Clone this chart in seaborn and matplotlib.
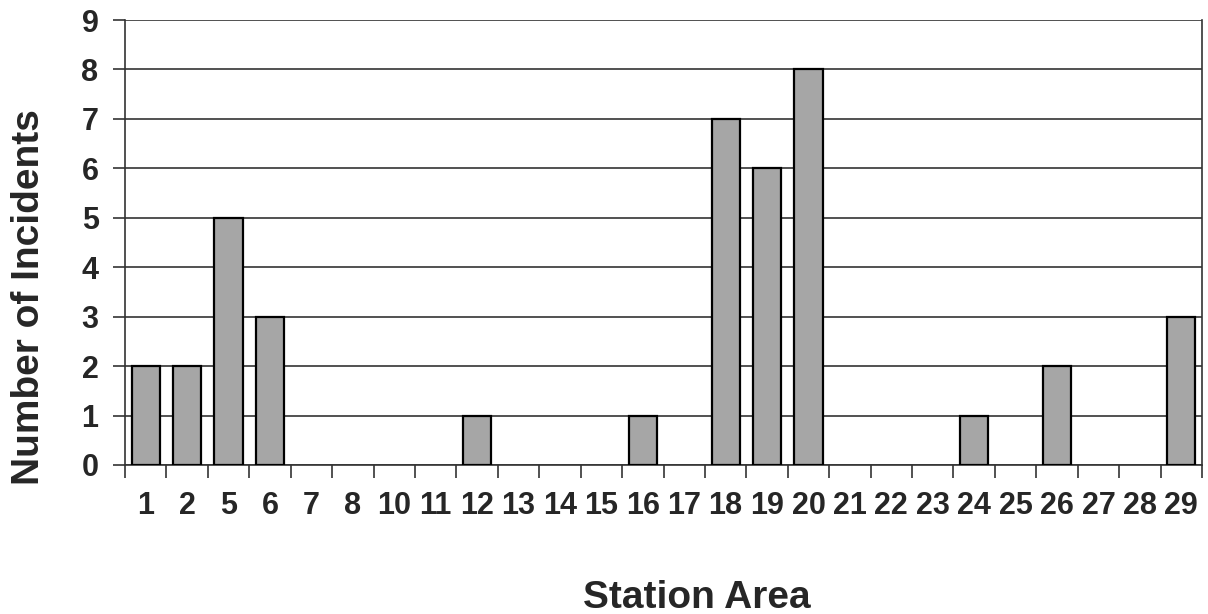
import matplotlib
matplotlib.use("Agg")
import matplotlib.pyplot as plt
import seaborn as sns
import pandas as pd
import numpy as np

stations = ["1", "2", "5", "6", "7", "8", "10", "11", "12", "13", "14", "15", "16",
            "17", "18", "19", "20", "21", "22", "23", "24", "25", "26", "27", "28", "29"]
incidents = [2, 2, 5, 3, 0, 0, 0, 0, 1, 0, 0, 0, 1,
             0, 7, 6, 8, 0, 0, 0, 1, 0, 2, 0, 0, 3]
y_ticks = list(range(0, 10))

sns.set_theme(style="white")
plt.rcParams['font.family'] = ['Liberation Sans', 'DejaVu Sans']
plt.rcParams['font.weight'] = 'bold'

df = pd.DataFrame({"Station Area": stations, "Number of Incidents": incidents})

fig = plt.figure(figsize=(12.08, 6.14), dpi=100)
ax = fig.add_axes([125/1208, 1 - 465/614, (1202-125)/1208, (465-20)/614])

sns.barplot(data=df, x="Station Area", y="Number of Incidents", order=stations,
            color="#A6A6A6", edgecolor="black", linewidth=1.6, width=0.68,
            saturation=1, ax=ax, zorder=3)

# hide outlines of zero-height bars
for p in ax.patches:
    if p.get_height() == 0:
        p.set_visible(False)

ax.set_ylim(0, 9)
ax.set_xlim(-0.5, len(stations) - 0.5)
ax.set_yticks(y_ticks)
ax.yaxis.grid(True, color="#333333", linewidth=1.2, zorder=0)
ax.set_axisbelow(True)

ax.set_xticks(np.arange(len(stations)))
ax.set_xticklabels(stations, fontsize=22, fontweight="bold")
ax.set_xticks(np.arange(-0.5, len(stations)), minor=True)
ax.tick_params(axis="x", which="major", bottom=True, length=0, pad=19)
ax.tick_params(axis="x", which="minor", bottom=True, length=9, width=1.2,
               color="#333333", direction="out")
ax.tick_params(axis="y", left=True, length=9, width=1.2, color="#333333",
               direction="out", labelsize=22, pad=10)
for lab in ax.get_yticklabels():
    lab.set_fontweight("bold")

for s in ["left", "bottom", "right"]:
    ax.spines[s].set_visible(True)
    ax.spines[s].set_color("#333333")
    ax.spines[s].set_linewidth(1.2)
ax.spines["top"].set_visible(False)

ax.set_xlabel("Station Area", fontsize=28, fontweight="bold", labelpad=42)
ax.set_ylabel("Number of Incidents", fontsize=28, fontweight="bold", labelpad=25)
ax.xaxis.label.set_x(0.531)
ax.yaxis.label.set_y(0.378)

fig.savefig("out.png", dpi=100)
